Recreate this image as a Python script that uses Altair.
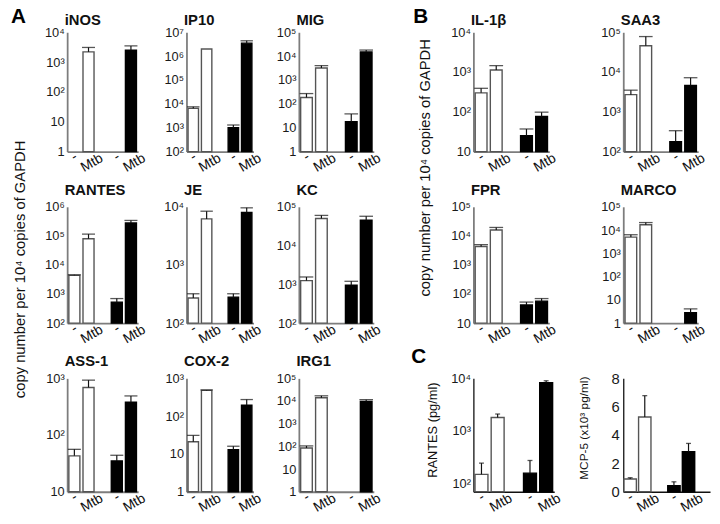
import altair as alt
import pandas as pd

FONT = "Liberation Sans"

# ---- data (grid order: row1, row2, row3) ----
titles = ["iNOS", "IP10", "MIG", "IL-1β", "SAA3",
          "RANTES", "JE", "KC", "FPR", "MARCO",
          "ASS-1", "COX-2", "IRG1", "", ""]

categories = ["w-", "wM", "gap", "b-", "bM"]
category_labels = ["-", "Mtb", "", "-", "Mtb"]
groups = ["w", "w", "", "b", "b"]

w_neg    = [None, 6500, 185, 300, 2700, 4400, 270, 1250, 4300, 5000, 43, 21, 85, 150, 0.9]
w_neg_hi = [None, 7500, 270, 390, 3500, 4600, 320, 1550, 5000, 6300, 56, 31, 105, 245, 0.99]
w_mtb    = [2200, 2.0e6, 3200, 1130, 46000, 80000, 6200, 50000, 16000, 17000, 690, 480, 14000, 1800, 5.27]
w_mtb_hi = [3100, 2.0e6, 4000, 1450, 78000, 115000, 8400, 60000, 19500, 21000, 930, 495, 17000, 2100, 6.78]
b_neg    = [None, 1000, 18, 25, 178, 530, 280, 950, 42, None, 35, 13, None, 158, 0.42]
b_neg_hi = [None, 1300, 38, 37, 335, 700, 320, 1200, 53, None, 44, 16, None, 275, 0.70]
b_mtb    = [2500, 3.5e6, 15000, 76, 4600, 280000, 8000, 45000, 57, 2.8, 380, 196, 9500, 8300, 2.82]
b_mtb_hi = [3500, 4.4e6, 18000, 98, 7200, 340000, 9600, 57000, 70, 4.1, 490, 275, 11500, 9000, 3.41]

y_min = [1, 100, 1, 10, 100, 100, 100, 100, 10, 1, 10, 1, 1, 70, 0]
y_max = [1e4, 1e7, 1e5, 1e4, 1e5, 1e6, 1e4, 1e5, 1e5, 1e5, 1e3, 1e3, 1e5, 1e4, 8]
y_ticks = [
    [1, 10, 100, 1000, 10000],
    [100, 1000, 10000, 1e5, 1e6, 1e7],
    [1, 10, 100, 1000, 10000, 1e5],
    [10, 100, 1000, 10000],
    [100, 1000, 10000, 1e5],
    [100, 1000, 10000, 1e5, 1e6],
    [100, 1000, 10000],
    [100, 1000, 10000, 1e5],
    [10, 100, 1000, 10000, 1e5],
    [1, 10, 100, 1000, 10000, 1e5],
    [10, 100, 1000],
    [1, 10, 100, 1000],
    [1, 10, 100, 1000, 10000, 1e5],
    [100, 1000, 10000],
    [0, 2, 4, 6, 8],
]
y_titles = {0: "copy number per 10⁴ copies of GAPDH",
            3: "copy number per 10⁴ copies of GAPDH",
            13: "RANTES (pg/ml)",
            14: "MCP-5 (x10³ pg/ml)"}

# ---- layout (styles / sizes) ----
row_heights = [121, 118, 115]
row_title_offset = [8, 12, 13]
widths_rows = [
    [57, 72, 49, 68, 46, 76, 101, 77, 44, 76],
    [57, 72, 49, 68, 46, 76, 101, 77, 44, 76],
    [57, 72, 49, 68, 46, 76, 92, 82, 70, 88],
]

LOG_LABELS = ("datum.value < 1.5 ? '1' : datum.value < 15 ? '10' : "
              "'10' + ['', '', '²', '³', '⁴', '⁵', '⁶', '⁷'][round(log(datum.value) / LN10)]")
x_label_expr = " : ".join(
    f"datum.value == '{c}' ? '{l}'" for c, l in zip(categories, category_labels)
) + " : ''"


def make_panel(k, width, height, row):
    is_c = k >= 13
    linear = k == 14
    recs = []
    series = [(w_neg, w_neg_hi), (w_mtb, w_mtb_hi), None, (b_neg, b_neg_hi), (b_mtb, b_mtb_hi)]
    for cat, grp, s in zip(categories, groups, series):
        if s is None:
            continue
        v = s[0][k]
        if v is None:
            continue
        recs.append({"cat": cat, "grp": grp, "v": v, "hi": s[1][k], "base": y_min[k]})
    df = pd.DataFrame(recs)

    cats = categories + (["pad"] if linear else [])
    if linear:
        pi, po = 0.15, 0.05
    elif is_c:
        pi, po = 0.2, 0.1
    else:
        pi, po = 0.22, 0.12
    bw = width / (len(cats) - pi + 2 * po) * (1 - pi)
    cap = 5 if is_c else bw + 2
    axis_color = "#111111" if is_c else "#7d7d7d"
    dom_w = 1.3 if is_c else 1.8

    xaxis_kw = dict(
        ticks=False, grid=False, domainColor=axis_color, domainWidth=dom_w,
        labelAngle=330, labelAlign="center",
        labelBaseline={"condition": {"test": "datum.value == 'w-' || datum.value == 'b-'",
                                     "value": "middle"}, "value": "top"},
        labelPadding=5, labelFontSize=14, labelColor="#111111", labelFont=FONT,
        labelExpr=x_label_expr, labelOverlap=False, labelFlush=False,
    )
    if titles[k]:
        xaxis_kw.update(title=titles[k], titleFont=FONT, titleFontSize=15, titleFontWeight="bold",
                        titleColor="#111111", titleAngle=0, titleAlign="left",
                        titleBaseline="alphabetic", titleX=-3,
                        titleY=-(height + row_title_offset[row]))
    else:
        xaxis_kw["title"] = None
    X = alt.X("cat:N", scale=alt.Scale(domain=cats, paddingInner=pi, paddingOuter=po),
              axis=alt.Axis(**xaxis_kw))

    yaxis_kw = dict(values=y_ticks[k], ticks=False, grid=False, domainColor=axis_color,
                    domainWidth=dom_w, labelFontSize=15 if linear else 13, labelColor="#1a1a1a",
                    labelFont=FONT, labelPadding=4 if linear else 3, labelOverlap=False,
                    labelFlush=False)
    if not linear:
        yaxis_kw["labelExpr"] = LOG_LABELS
    if k in y_titles:
        yaxis_kw.update(title=y_titles[k], titleFont=FONT, titleFontWeight="normal",
                        titleColor="#111111")
        if k == 0:
            yaxis_kw.update(titleX=-40, titleY=240, titleFontSize=15)
        elif k == 3:
            yaxis_kw.update(titleX=-42, titleY=137, titleFontSize=15)
        elif k == 13:
            yaxis_kw.update(titleX=-34, titleY=52, titleFontSize=13)
        else:
            yaxis_kw.update(titleX=-33, titleY=50, titleFontSize=12)
    else:
        yaxis_kw["title"] = None
    yaxis = alt.Axis(**yaxis_kw)
    if linear:
        yscale = alt.Scale(domain=[y_min[k], y_max[k]], nice=False, zero=True)
    else:
        yscale = alt.Scale(type="log", domain=[y_min[k], y_max[k]], nice=False)

    def Y(field):
        return alt.Y(f"{field}:Q", scale=yscale, axis=yaxis)

    base = alt.Chart(df)
    bars = base.mark_bar(strokeWidth=1.4).encode(
        x=X, y=Y("v"), y2="base:Q",
        fill=alt.Fill("grp:N", scale=alt.Scale(domain=["w", "b"], range=["white", "black"]), legend=None),
        stroke=alt.Stroke("grp:N", scale=alt.Scale(domain=["w", "b"], range=["#555555", "black"]), legend=None),
    )
    errs = base.transform_filter("datum.hi > datum.v")
    rule = errs.mark_rule(color="#111111", strokeWidth=1.2).encode(x=X, y=Y("v"), y2="hi:Q")
    capm = errs.mark_tick(color="#111111", thickness=1.3, size=cap).encode(x=X, y=Y("hi"))
    return alt.layer(bars, rule, capm).properties(width=width, height=height)


def spacer(width, height, letter=None, dx=0, offset=8):
    ch = alt.Chart(pd.DataFrame({"z": [0]})).mark_point(opacity=0).encode(
        x=alt.value(0), y=alt.value(0)).properties(width=width, height=height)
    if letter:
        ch = ch.properties(title=alt.TitleParams(
            letter, anchor="start", frame="group", fontSize=21, fontWeight="bold",
            font=FONT, color="black", offset=offset, dx=dx))
    return ch


cells = []
for row in range(3):
    ws = widths_rows[row]
    h = row_heights[row]
    ks = list(range(row * 5, row * 5 + 5))
    cells.append(spacer(ws[0], h, "A" if row == 0 else None, 0, 3))
    cells.append(make_panel(ks[0], ws[1], h, row))
    cells.append(spacer(ws[2], h))
    cells.append(make_panel(ks[1], ws[3], h, row))
    cells.append(spacer(ws[4], h))
    cells.append(make_panel(ks[2], ws[5], h, row))
    if row == 0:
        cells.append(spacer(ws[6], h, "B", 40, 3))
    elif row == 2:
        cells.append(spacer(ws[6], h, "C", 38, 9))
    else:
        cells.append(spacer(ws[6], h))
    cells.append(make_panel(ks[3], ws[7], h, row))
    cells.append(spacer(ws[8], h))
    cells.append(make_panel(ks[4], ws[9], h, row))

chart = alt.concat(
    *cells, columns=10, spacing={"row": 56, "column": 0}, bounds="flush", align="none"
).resolve_scale(
    x="independent", y="independent", fill="independent", stroke="independent"
).properties(
    padding={"left": 0, "top": -6, "right": 2, "bottom": 0}, background="white"
).configure_view(strokeWidth=0)

chart.save("out.html", embed_options={"renderer": "svg", "actions": False})
